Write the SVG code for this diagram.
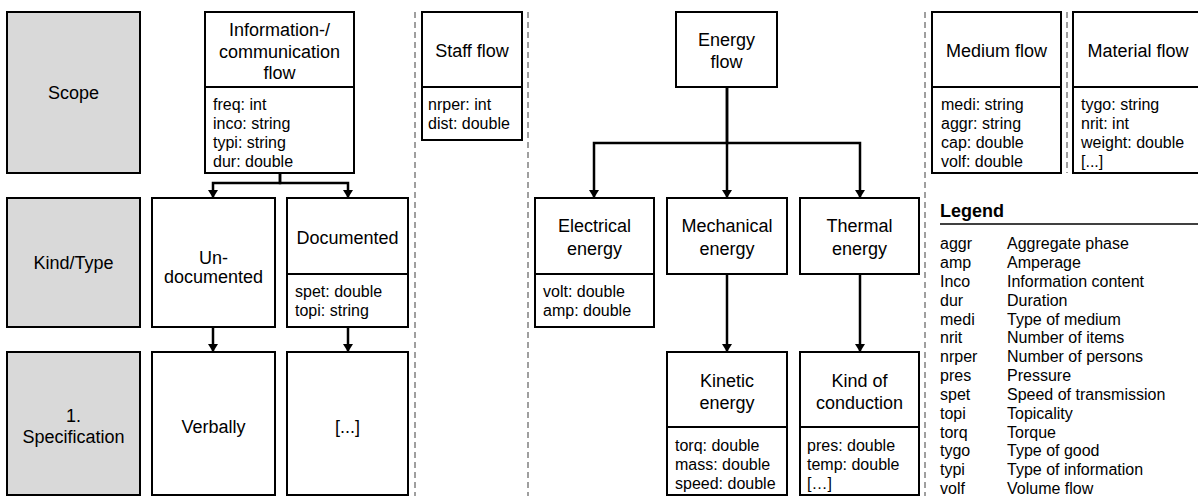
<svg xmlns="http://www.w3.org/2000/svg" width="1198" height="496" viewBox="0 0 1198 496">
<defs>
<marker id="arr" markerUnits="userSpaceOnUse" viewBox="0 0 8 10" markerWidth="8" markerHeight="10" refX="8" refY="5" orient="auto">
<path d="M0,0 L8,5 L0,10 z" fill="#000"/>
</marker>
<style>
text{font-family:"Liberation Sans",Arial,sans-serif;fill:#000}
.t{font-size:18px;text-anchor:middle}
.a{font-size:16px}
.lg{font-size:16px}
.lh{font-size:18px;font-weight:bold}
.box{fill:#fff;stroke:#000;stroke-width:2}
.cat{fill:#d9d9d9;stroke:#000;stroke-width:2}
.div{stroke:#000;stroke-width:2}
.dash{stroke:#808080;stroke-width:1.5;stroke-dasharray:6 4;fill:none}
.c{fill:none;stroke:#000;stroke-width:2.5;marker-end:url(#arr)}
</style>
</defs>
<rect width="1198" height="496" fill="#fff"/>

<g id="separators">
<line class="dash" x1="415" y1="12" x2="415" y2="496"/>
<line class="dash" x1="528" y1="12" x2="528" y2="496"/>
<line class="dash" x1="925" y1="12" x2="925" y2="496"/>
<line class="dash" x1="1067" y1="12" x2="1067" y2="173"/>
</g>

<g id="connectors">
<path class="c" d="M280,173 V183 H213 V198"/>
<path class="c" d="M280,173 V183 H348 V198"/>
<path class="c" d="M213,327 V352"/>
<path class="c" d="M348,327 V352"/>
<path class="c" d="M727,87 V143 H594 V198"/>
<path class="c" d="M727,87 V198"/>
<path class="c" d="M727,143 H860 V198"/>
<path class="c" d="M727,274 V352"/>
<path class="c" d="M860,274 V352"/>
</g>

<g id="scope">
<rect class="cat" x="7" y="12" width="133" height="161"/>
<text class="t" x="73.5" y="99">Scope</text>
</g>
<g id="kindtype">
<rect class="cat" x="7" y="198" width="133" height="129"/>
<text class="t" x="73.5" y="269">Kind/Type</text>
</g>
<g id="specification">
<rect class="cat" x="7" y="352" width="133" height="143"/>
<text class="t" x="73.5" y="422">1.</text>
<text class="t" x="73.5" y="443">Specification</text>
</g>

<g id="info">
<rect class="box" x="205" y="12" width="149" height="161"/>
<line class="div" x1="205" y1="87" x2="354" y2="87"/>
<text class="t" x="279.5" y="36">Information-/</text>
<text class="t" x="279.5" y="58">communication</text>
<text class="t" x="279.5" y="79">flow</text>
<text class="a" x="213" y="110">freq: int</text>
<text class="a" x="213" y="129">inco: string</text>
<text class="a" x="213" y="148">typi: string</text>
<text class="a" x="213" y="167">dur: double</text>
</g>

<g id="undocumented">
<rect class="box" x="152" y="198" width="123" height="129"/>
<text class="t" x="213.5" y="263.5">Un-</text>
<text class="t" x="213.5" y="283">documented</text>
</g>
<g id="documented">
<rect class="box" x="287" y="198" width="121" height="129"/>
<line class="div" x1="287" y1="274" x2="408" y2="274"/>
<text class="t" x="347.5" y="243.5">Documented</text>
<text class="a" x="295" y="297">spet: double</text>
<text class="a" x="295" y="316">topi: string</text>
</g>
<g id="verbally">
<rect class="box" x="152" y="352" width="123" height="143"/>
<text class="t" x="213.5" y="433">Verbally</text>
</g>
<g id="docspec">
<rect class="box" x="287" y="352" width="121" height="143"/>
<text class="t" x="347.5" y="433">[...]</text>
</g>

<g id="staff">
<rect class="box" x="422" y="12" width="100" height="128"/>
<line class="div" x1="422" y1="87" x2="522" y2="87"/>
<text class="t" x="472" y="57">Staff flow</text>
<text class="a" x="428" y="110">nrper: int</text>
<text class="a" x="428" y="129">dist: double</text>
</g>

<g id="energy">
<rect class="box" x="676" y="12" width="101" height="75"/>
<text class="t" x="726.5" y="46">Energy</text>
<text class="t" x="726.5" y="68">flow</text>
</g>
<g id="electrical">
<rect class="box" x="535" y="198" width="119" height="129"/>
<line class="div" x1="535" y1="274" x2="654" y2="274"/>
<text class="t" x="594.5" y="232">Electrical</text>
<text class="t" x="594.5" y="255">energy</text>
<text class="a" x="543" y="297">volt: double</text>
<text class="a" x="543" y="316">amp: double</text>
</g>
<g id="mechanical">
<rect class="box" x="667" y="198" width="120" height="76"/>
<text class="t" x="727" y="232">Mechanical</text>
<text class="t" x="727" y="255">energy</text>
</g>
<g id="thermal">
<rect class="box" x="800" y="198" width="119" height="76"/>
<text class="t" x="859.5" y="232">Thermal</text>
<text class="t" x="859.5" y="255">energy</text>
</g>
<g id="kinetic">
<rect class="box" x="667" y="352" width="120" height="143"/>
<line class="div" x1="667" y1="427" x2="787" y2="427"/>
<text class="t" x="727" y="387">Kinetic</text>
<text class="t" x="727" y="409">energy</text>
<text class="a" x="675" y="451">torq: double</text>
<text class="a" x="675" y="470">mass: double</text>
<text class="a" x="675" y="489">speed: double</text>
</g>
<g id="conduction">
<rect class="box" x="800" y="352" width="119" height="143"/>
<line class="div" x1="800" y1="427" x2="919" y2="427"/>
<text class="t" x="859.5" y="387">Kind of</text>
<text class="t" x="859.5" y="409">conduction</text>
<text class="a" x="807" y="451">pres: double</text>
<text class="a" x="807" y="470">temp: double</text>
<text class="a" x="807" y="489">[…]</text>
</g>

<g id="medium">
<rect class="box" x="932" y="12" width="129" height="161"/>
<line class="div" x1="932" y1="87" x2="1061" y2="87"/>
<text class="t" x="996.5" y="57">Medium flow</text>
<text class="a" x="941" y="110">medi: string</text>
<text class="a" x="941" y="129">aggr: string</text>
<text class="a" x="941" y="148">cap: double</text>
<text class="a" x="941" y="167">volf: double</text>
</g>
<g id="material">
<rect class="box" x="1073" y="12" width="130" height="161"/>
<line class="div" x1="1073" y1="87" x2="1203" y2="87"/>
<text class="t" x="1138" y="57">Material flow</text>
<text class="a" x="1081" y="110">tygo: string</text>
<text class="a" x="1081" y="129">nrit: int</text>
<text class="a" x="1081" y="148">weight: double</text>
<text class="a" x="1081" y="167">[...]</text>
</g>

<g id="legend">
<text class="lh" x="940" y="217">Legend</text>
<line x1="940" y1="224" x2="1198" y2="224" stroke="#000" stroke-width="1.5"/>
<text class="lg" x="940" y="249">aggr</text><text class="lg" x="1007" y="249">Aggregate phase</text>
<text class="lg" x="940" y="268">amp</text><text class="lg" x="1007" y="268">Amperage</text>
<text class="lg" x="940" y="287">Inco</text><text class="lg" x="1007" y="287">Information content</text>
<text class="lg" x="940" y="305.5">dur</text><text class="lg" x="1007" y="305.5">Duration</text>
<text class="lg" x="940" y="324.5">medi</text><text class="lg" x="1007" y="324.5">Type of medium</text>
<text class="lg" x="940" y="343">nrit</text><text class="lg" x="1007" y="343">Number of items</text>
<text class="lg" x="940" y="362">nrper</text><text class="lg" x="1007" y="362">Number of persons</text>
<text class="lg" x="940" y="381">pres</text><text class="lg" x="1007" y="381">Pressure</text>
<text class="lg" x="940" y="400">spet</text><text class="lg" x="1007" y="400">Speed of transmission</text>
<text class="lg" x="940" y="418.5">topi</text><text class="lg" x="1007" y="418.5">Topicality</text>
<text class="lg" x="940" y="437.5">torq</text><text class="lg" x="1007" y="437.5">Torque</text>
<text class="lg" x="940" y="456">tygo</text><text class="lg" x="1007" y="456">Type of good</text>
<text class="lg" x="940" y="475">typi</text><text class="lg" x="1007" y="475">Type of information</text>
<text class="lg" x="940" y="494">volf</text><text class="lg" x="1007" y="494">Volume flow</text>
</g>
</svg>
